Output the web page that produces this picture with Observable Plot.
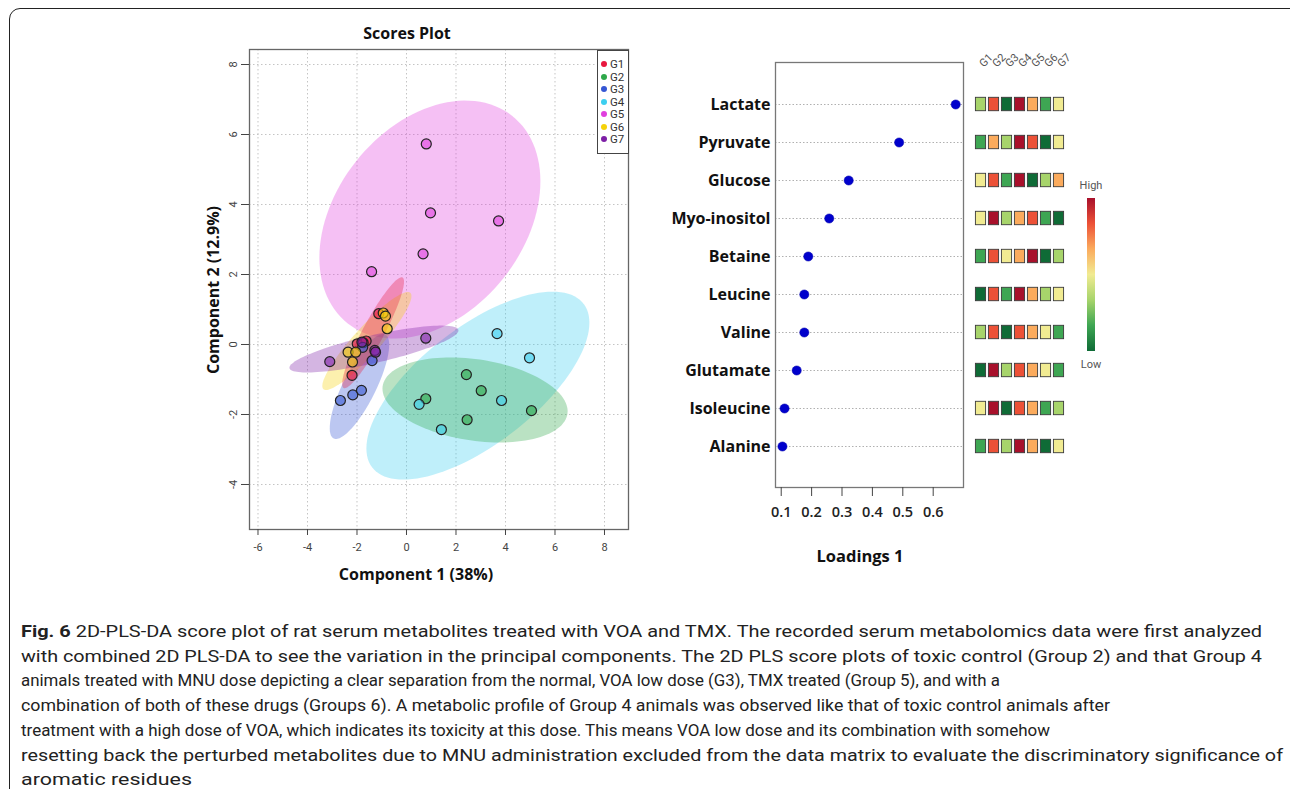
<!DOCTYPE html>
<html><head><meta charset="utf-8">
<script src="https://cdn.jsdelivr.net/npm/d3@7"></script>
<script src="https://cdn.jsdelivr.net/npm/@observablehq/plot@0.6"></script>
<style>
body{margin:0;background:#fff;}
#root{position:relative;width:1290px;height:789px;overflow:hidden;font-family:"Open Sans",sans-serif;background:#fff;}
.abs{position:absolute;}
.t{position:absolute;white-space:nowrap;font-weight:700;color:#111;font-size:16px;transform:translate(-50%,-50%);}
.narrow{font-family:"Roboto","Liberation Sans Narrow",sans-serif;}
svg{overflow:visible;}
</style></head><body><div id="root"></div>
<script>
// ---------- Scores plot data ----------
const groups = ["G1","G2","G3","G4","G5","G6","G7"];
const groupColors = ["#e8173e","#2ea84a","#3556d4","#3ccff0","#e03fde","#f5d20a","#7d1fa6"];
const scoreGroup = ["G1","G1","G1","G1","G1",
                    "G2","G2","G2","G2","G2",
                    "G3","G3","G3","G3","G3",
                    "G4","G4","G4","G4","G4",
                    "G5","G5","G5","G5","G5",
                    "G6","G6","G6","G6","G6","G6",
                    "G7","G7","G7","G7","G7"];
const scoreX = [-2.20,-1.12,-1.99,-1.63,-1.75,
                 2.42, 3.02, 0.78, 2.45, 5.05,
                -2.67,-2.17,-1.82,-1.39,-1.77,
                 3.66, 4.97, 3.84, 0.51, 1.41,
                 0.80, 0.97, 3.72, 0.67,-1.41,
                -0.94,-0.85,-0.78,-2.36,-2.05,-2.18,
                -3.10, 0.78,-1.28,-1.25,-1.80];
const scoreY = [-0.88, 0.88, 0.02, 0.10, 0.05,
                -0.86,-1.32,-1.55,-2.15,-1.89,
                -1.60,-1.44,-1.31,-0.46,-0.08,
                 0.31,-0.38,-1.60,-1.71,-2.43,
                 5.73, 3.76, 3.53, 2.59, 2.08,
                 0.90, 0.81, 0.45,-0.22,-0.22,-0.50,
                -0.49, 0.18,-0.17,-0.22, 0.07];
// confidence ellipses (extents and x of topmost point), drawing order
const ellipseGroup = ["G5","G4","G2","G3","G6","G1","G7"];
const ellipseXMin  = [-3.52,-1.62,-0.97,-3.10,-3.40,-2.60,-4.73];
const ellipseXMax  = [ 5.41, 7.39, 6.51,-0.70, 0.20,-0.10, 2.10];
const ellipseYMin  = [ 0.17,-3.86,-2.80,-2.70,-1.30,-1.25,-0.80];
const ellipseYMax  = [ 6.97, 1.51,-0.37, 0.30, 1.50, 1.92, 0.54];
const ellipseXTop  = [ 2.38, 5.90, 1.78,-0.95, 0.05,-0.20, 1.40];
const scoreXTicks = [-6,-4,-2,0,2,4,6,8];
const scoreYTicks = [-4,-2,0,2,4,6,8];

// ---------- Loadings data ----------
const metabolites = ["Lactate","Pyruvate","Glucose","Myo-inositol","Betaine","Leucine","Valine","Glutamate","Isoleucine","Alanine"];
const loadings = [0.674,0.488,0.322,0.258,0.189,0.176,0.176,0.151,0.111,0.104];
const loadTicks = [0.1,0.2,0.3,0.4,0.5,0.6];
// heatmap levels (1 = low ... 7 = high), one row per metabolite, columns G1..G7
const heatValues = [
  [3,6,1,7,5,2,4],
  [2,5,3,7,6,1,4],
  [4,6,2,7,1,3,5],
  [4,7,3,5,6,2,1],
  [2,6,4,5,7,1,3],
  [1,6,2,7,5,3,4],
  [3,6,1,6,5,4,2],
  [1,7,3,6,5,4,2],
  [4,7,1,6,5,2,3],
  [2,6,3,7,5,1,4]
];
const heatLevels = [1,2,3,4,5,6,7];
const heatColors = ["#0f6b36","#3ea653","#a7d46b","#f1eb92","#fbab5d","#ec5137","#a8102b"];

const captionLines = [
  "2D-PLS-DA score plot of rat serum metabolites treated with VOA and TMX. The recorded serum metabolomics data were first analyzed",
  "with combined 2D PLS-DA to see the variation in the principal components. The 2D PLS score plots of toxic control (Group 2) and that Group 4",
  "animals treated with MNU dose depicting a clear separation from the normal, VOA low dose (G3), TMX treated (Group 5), and with a",
  "combination of both of these drugs (Groups 6). A metabolic profile of Group 4 animals was observed like that of toxic control animals after",
  "treatment with a high dose of VOA, which indicates its toxicity at this dose. This means VOA low dose and its combination with somehow",
  "resetting back the perturbed metabolites due to MNU administration excluded from the data matrix to evaluate the discriminatory significance of",
  "aromatic residues"
];
const captionRightEdge = [1262,1262,1000,1110,1050,1283,192];

// ---------- build ----------
const root = document.getElementById("root");
function add(html){ root.insertAdjacentHTML("beforeend", html); }
function place(node, left, top){ node.style.position="absolute"; node.style.left=left+"px"; node.style.top=top+"px"; root.appendChild(node); }

// outer rounded frame
add(`<div class="abs" style="left:9px;top:8px;width:1300px;height:790px;border:1.6px solid #222;border-radius:11px;"></div>`);

const colorOf = g => groupColors[groups.indexOf(g)];
const scoreData = scoreX.map((x,i)=>({x, y:scoreY[i], group:scoreGroup[i]}));

function ellipsePts(i){
  const cx=(ellipseXMin[i]+ellipseXMax[i])/2, cy=(ellipseYMin[i]+ellipseYMax[i])/2;
  const W=(ellipseXMax[i]-ellipseXMin[i])/2, H=(ellipseYMax[i]-ellipseYMin[i])/2;
  const tx=ellipseXTop[i]-cx;
  const dyr=tx*H/W, h=Math.sqrt(Math.max(H*H-dyr*dyr,0));
  return d3.range(0,120).map(k=>{const t=2*Math.PI*k/120; return {x:cx+W*Math.cos(t), y:cy+dyr*Math.cos(t)+h*Math.sin(t)};});
}

const scores = Plot.plot({
  width:450, height:570, marginLeft:59, marginRight:12, marginTop:29, marginBottom:61,
  x:{domain:[-6.343,8.97], label:null},
  y:{domain:[-5.286,8.429], label:null},
  color:{domain:groups, range:groupColors},
  style:{fontFamily:"'Roboto',sans-serif", fontSize:"11px", color:"#444", background:"transparent", overflow:"visible"},
  marks:[
    Plot.gridX(scoreXTicks, {stroke:"#c4c4c4", strokeOpacity:1, strokeDasharray:"1.5,2.5"}),
    Plot.gridY(scoreYTicks, {stroke:"#c4c4c4", strokeOpacity:1, strokeDasharray:"1.5,2.5"}),
    ...ellipseGroup.map((g,i)=>Plot.line(ellipsePts(i), {x:"x", y:"y", curve:"linear-closed", stroke:"none", fill:colorOf(g), fillOpacity:0.33})),
    Plot.dot(scoreData, {x:"x", y:"y", fill:"group", fillOpacity:0.6, stroke:"#222", strokeWidth:1.2, r:5}),
    Plot.frame({stroke:"#666", strokeWidth:1.3}),
    Plot.axisX(scoreXTicks, {tickSize:6, tickPadding:8, tickFormat:d=>String(d), stroke:"#444", fill:"#444", label:null}),
    Plot.axisY(scoreYTicks, {tickSize:8, tickFormat:()=>"", stroke:"#444", label:null}),
    Plot.text(scoreYTicks, {y:d=>d, frameAnchor:"left", dx:-16, rotate:-90, text:d=>String(d), textAnchor:"middle", fill:"#444"})
  ]
});
place(scores, 190, 20);

add(`<div class="t" style="left:407px;top:33px;">Scores Plot</div>`);
add(`<div class="t" style="left:416px;top:574px;">Component 1 (38%)</div>`);
add(`<div class="t" style="left:213px;top:290px;transform:translate(-50%,-50%) rotate(-90deg);">Component 2 (12.9%)</div>`);

// legend
let leg = `<div class="abs" style="left:597px;top:50px;width:30px;height:102px;border:1px solid #444;background:#fff;"></div>`;
groups.forEach((g,i)=>{
  const y = 64 + i*12.5;
  leg += `<div class="abs" style="left:601px;top:${y-3}px;width:6px;height:6px;border-radius:50%;background:${groupColors[i]};"></div>`;
  leg += `<div class="abs narrow" style="left:610px;top:${y-7}px;font-size:11.5px;line-height:14px;color:#333;">${g}</div>`;
});
add(leg);

// loadings
const loadData = metabolites.map((m,i)=>({m, v:loadings[i]}));
const loadPlot = Plot.plot({
  width:290, height:540, marginLeft:95, marginRight:7, marginTop:22, marginBottom:93,
  x:{domain:[0.0812,0.6997], label:null},
  y:{type:"band", domain:metabolites, paddingInner:0, paddingOuter:0.5, label:null},
  style:{fontFamily:"'Open Sans',sans-serif", background:"transparent", color:"#222", overflow:"visible"},
  marks:[
    Plot.gridY(metabolites, {stroke:"#b0b0b0", strokeOpacity:1, strokeDasharray:"1.5,2"}),
    Plot.frame({stroke:"#777", strokeWidth:1.3}),
    Plot.dot(loadData, {x:"v", y:"m", r:4.6, fill:"#0000cc", stroke:"#0000aa", strokeWidth:0.5}),
    Plot.axisX(loadTicks, {tickSize:9, tickPadding:10, fontSize:14.5, fontWeight:600, tickFormat:d=>d.toFixed(1), stroke:"#444", fill:"#222", label:null}),
    Plot.axisY(metabolites, {tickSize:0, tickPadding:5, fontSize:16, fontWeight:700, fill:"#111", label:null})
  ]
});
place(loadPlot, 680, 40);
add(`<div class="t" style="left:860px;top:555px;font-size:16.5px;">Loadings 1</div>`);

// heatmap
const heatData = [];
metabolites.forEach((m,r)=>groups.forEach((g,c)=>heatData.push({m, g, v:heatValues[r][c]})));
const heat = Plot.plot({
  width:110, height:540, marginLeft:7, marginRight:7.8, marginTop:22, marginBottom:93,
  x:{type:"band", domain:groups, padding:0, axis:null},
  y:{type:"band", domain:metabolites, paddingInner:0, paddingOuter:0.5, axis:null},
  color:{type:"ordinal", domain:heatLevels, range:heatColors},
  style:{background:"transparent", overflow:"visible"},
  marks:[
    Plot.cell(heatData, {x:"g", y:"m", fill:"v", stroke:"#3a3a3a", strokeWidth:0.9, insetLeft:1.4, insetRight:1.4, insetTop:12.3, insetBottom:12.3}),
    Plot.text(groups, {x:d=>d, frameAnchor:"top", dy:-5, dx:2, rotate:-45, text:d=>d, fontSize:11, fill:"#555", fontFamily:"'Roboto',sans-serif"})
  ]
});
place(heat, 965, 40);

// color bar
const grad = heatColors.slice().reverse().join(",");
add(`<div class="abs" style="left:1087px;top:198px;width:8px;height:153px;background:linear-gradient(to bottom,${grad});"></div>`);
add(`<div class="abs narrow" style="left:1091px;top:185px;transform:translate(-50%,-50%);font-size:11px;color:#555;">High</div>`);
add(`<div class="abs narrow" style="left:1091px;top:364px;transform:translate(-50%,-50%);font-size:11px;color:#555;">Low</div>`);

// caption
const NS="http://www.w3.org/2000/svg";
const cap = document.createElementNS(NS,"svg");
cap.setAttribute("width","1290"); cap.setAttribute("height","189");
cap.style.position="absolute"; cap.style.left="0px"; cap.style.top="600px";
captionLines.forEach((line,i)=>{
  const t = document.createElementNS(NS,"text");
  t.setAttribute("x","21");
  t.setAttribute("y", String(31 + i*24.7 + 6));
  t.setAttribute("font-family","'Roboto',sans-serif");
  t.setAttribute("font-size","17");
  t.setAttribute("fill","#222");
  t.setAttribute("textLength", String(captionRightEdge[i]-21));
  t.setAttribute("lengthAdjust","spacingAndGlyphs");
  if(i===0){
    const b=document.createElementNS(NS,"tspan"); b.setAttribute("font-weight","bold"); b.textContent="Fig. 6 ";
    t.appendChild(b);
    const r=document.createElementNS(NS,"tspan"); r.textContent=line; t.appendChild(r);
  } else t.textContent=line;
  cap.appendChild(t);
});
root.appendChild(cap);
</script></body></html>
